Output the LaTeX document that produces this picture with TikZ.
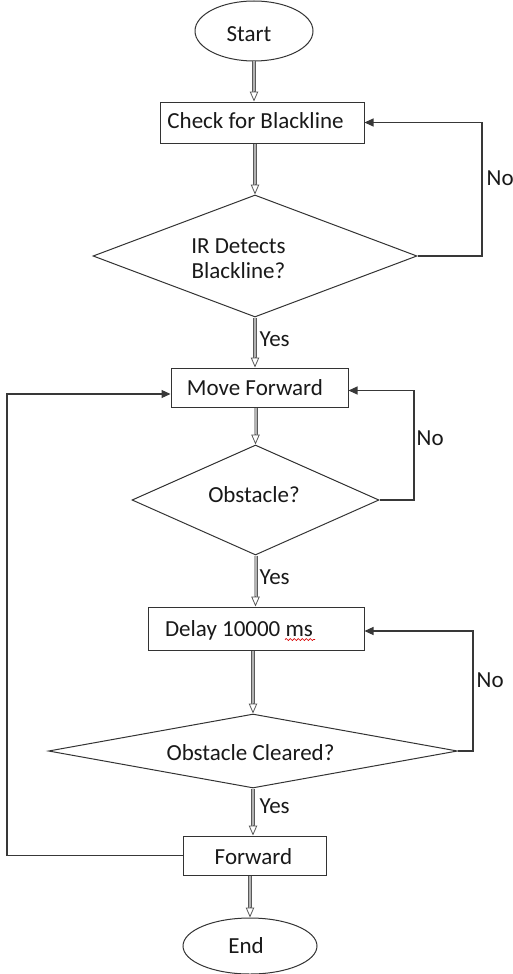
\documentclass[tikz,border=0pt]{standalone}
\usepackage{fontspec}
\setmainfont{Carlito}
\usetikzlibrary{shapes.geometric,arrows.meta,calc,decorations.pathmorphing}

\newcommand\flowdbl[2]{%
  \draw[dblshaft] (#1) -- ($(#2)+(0,-10)$);
  \draw[hollowtip] ($(#2)+(0,-10.6)$) -- (#2);
}

\begin{document}
\begin{tikzpicture}[x=1pt,y=-1pt,
  shapebase/.style={draw=black!80,line width=1pt,inner sep=0pt,fill=white},
  procbox/.style={shapebase,rectangle},
  termnode/.style={shapebase,ellipse},
  decision/.style={shapebase,diamond},
  txt/.style={font=\fontsize{23}{25}\selectfont,inner sep=0pt,text height=14.8pt,text depth=0pt,text=black!90},
  txtml/.style={font=\fontsize{23}{25}\selectfont,inner sep=0pt,text=black!90},
  dblshaft/.style={draw=black!65,line width=0.8pt,double=black!30,double distance=2.4pt},
  hollowtip/.style={draw=black!65,line width=0.8pt,-{Triangle[length=10pt,width=8.5pt,fill=white]}},
  loopline/.style={draw=black!78,line width=1.1pt,-{Triangle[length=9pt,width=8pt]}},
  squiggle/.style={draw=red!85!black,line width=0.7pt,decorate,decoration={snake,amplitude=1pt,segment length=4pt}}
]
\useasboundingbox (0,0) rectangle (513,974);

% shapes
\node[termnode,minimum width=118pt,minimum height=60pt] (start) at (254,31) {};
\node[procbox,minimum width=204pt,minimum height=41pt] (check) at (262,122.5) {};
\node[decision,minimum width=324pt,minimum height=122pt] (d1) at (255,256) {};
\node[procbox,minimum width=177pt,minimum height=39pt] (move) at (259.5,387.5) {};
\node[decision,minimum width=247pt,minimum height=110pt] (d2) at (255.5,500) {};
\node[procbox,minimum width=216pt,minimum height=43pt] (delay) at (256,628.5) {};
\node[decision,minimum width=409pt,minimum height=74pt] (d3) at (253,751) {};
\node[procbox,minimum width=143pt,minimum height=39pt] (fwd) at (254.5,855.5) {};
\node[termnode,minimum width=134pt,minimum height=56pt] (endn) at (250,946) {};

% helper coordinates for the double arrows
\coordinate (a1) at (start.south |- check.north);
\coordinate (a2) at (d1.north |- check.south);
\coordinate (a3) at (d1.south |- move.north);
\coordinate (a4) at (d2.north |- move.south);
\coordinate (a5) at (d2.south |- delay.north);
\coordinate (a6) at (d3.north |- delay.south);
\coordinate (a7) at (d3.south |- fwd.north);
\coordinate (a8) at (endn.north |- fwd.south);

\flowdbl{start.south}{a1}
\flowdbl{a2}{d1.north}
\flowdbl{d1.south}{a3}
\flowdbl{a4}{d2.north}
\flowdbl{d2.south}{a5}
\flowdbl{a6}{d3.north}
\flowdbl{d3.south}{a7}
\flowdbl{a8}{endn.north}

% loop-back connectors
\coordinate (r1) at (482,0);
\coordinate (r2) at (414,0);
\coordinate (r3) at (473,0);
\coordinate (l1) at (7,0);
\draw[loopline] (d1.east) -- (d1.east -| r1) |- (check.east);
\draw[loopline] (d2.east) -- (d2.east -| r2) |- ($(move.east)+(0,3)$);
\draw[loopline] (d3.east) -- (d3.east -| r3) |- ($(delay.east)+(0,2.5)$);
\draw[loopline] (fwd.west) -- (fwd.west -| l1) |- ($(move.west)+(0,6.5)$);

% texts
\node[txt] (startt) at (249,34) {Start};
\node[txt] (checkt) at (255.5,121.5) {Check for Blackline};
\node[txtml,align=center] (d1t) at (238.5,259) {IR Detects\\Blackline?};
\node[txt] (movet) at (255,388) {Move Forward};
\node[txt] (d2t) at (254,494.7) {Obstacle?};
\node[txt] (delayt) at (239,629.3) {Delay 10000 ms};
\node[txt] (d3t) at (250.5,753.3) {Obstacle Cleared?};
\node[txt] (fwdt) at (253.5,857) {Forward};
\node[txt] (endt) at (246,946.3) {End};

% branch labels
\node[txt,anchor=west] (no1) at (486.5,178) {No};
\node[txt,anchor=west] (yes1) at (259.5,339) {Yes};
\node[txt,anchor=west] (no2) at (416.5,438) {No};
\node[txt,anchor=west] (yes2) at (259.5,577) {Yes};
\node[txt,anchor=west] (no3) at (476.5,680.5) {No};
\node[txt,anchor=west] (yes3) at (259.5,806) {Yes};

% spell-check underline under "ms"
\draw[squiggle] (285,639.5) -- (315,639.5);
\end{tikzpicture}
\end{document}
